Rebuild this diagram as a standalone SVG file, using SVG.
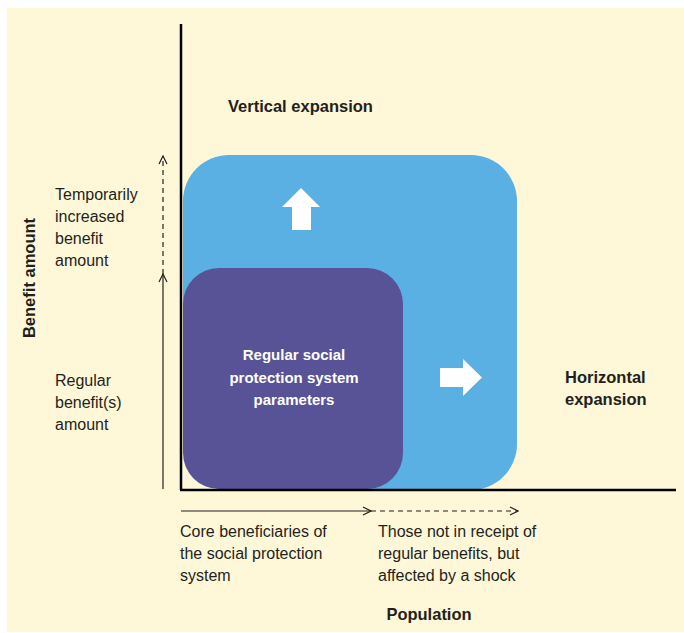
<svg xmlns="http://www.w3.org/2000/svg" width="684" height="633" viewBox="0 0 684 633">
<style>
.t{font-family:"Liberation Sans",Arial,sans-serif;font-size:16px;fill:#231f20}
.b{font-weight:bold;font-size:16.5px}
.w{fill:#ffffff;font-weight:bold;font-size:15px}
.ax{stroke:#000;stroke-width:2.5;fill:none}
.ar{stroke:#231f20;stroke-width:1.2;fill:none}
.da{stroke-dasharray:5,4}
</style>
<defs>
<marker id="oa" viewBox="0 0 10 10" refX="9" refY="5" markerWidth="10" markerHeight="10" markerUnits="userSpaceOnUse" orient="auto">
<path d="M1,1 L9,5 L1,9" fill="none" stroke="#231f20" stroke-width="1.2"/>
</marker>
</defs>
<rect x="7" y="8" width="677" height="624" fill="#fef7d8"/>
<g id="expanded">
<rect x="183" y="155" width="334" height="335" rx="46" ry="46" fill="#5ab0e3"/>
<path d="M301,188 L320,207 L311,207 L311,230 L292,230 L292,207 L282,207 Z" fill="#fff"/>
<path d="M440,368 L463,368 L463,359 L482,377.5 L463,396 L463,387 L440,387 Z" fill="#fff"/>
</g>
<g id="regular">
<rect x="183" y="268" width="220" height="221" rx="36" ry="36" fill="#585396"/>
<text class="t w" text-anchor="middle"><tspan x="294" y="360">Regular social</tspan><tspan x="294" y="383">protection system</tspan><tspan x="294" y="405">parameters</tspan></text>
</g>
<g id="axes">
<line class="ax" x1="181" y1="24" x2="181" y2="490"/>
<line class="ax" x1="180" y1="490" x2="676" y2="490"/>
</g>
<g id="connectors">
<line class="ar" x1="163" y1="489" x2="163" y2="274" marker-end="url(#oa)"/>
<line class="ar da" x1="163" y1="274" x2="163" y2="156" marker-end="url(#oa)"/>
<line class="ar" x1="181" y1="511" x2="371" y2="511" marker-end="url(#oa)"/>
<line class="ar da" x1="371" y1="511" x2="518" y2="511" marker-end="url(#oa)"/>
</g>
<g id="labels">
<text class="t b" x="228" y="112">Vertical expansion</text>
<text class="t"><tspan x="55" y="200">Temporarily</tspan><tspan x="55" y="222">increased</tspan><tspan x="55" y="244">benefit</tspan><tspan x="55" y="266">amount</tspan></text>
<text class="t"><tspan x="55" y="386">Regular</tspan><tspan x="55" y="408">benefit(s)</tspan><tspan x="55" y="430">amount</tspan></text>
<text class="t b" text-anchor="middle" transform="translate(35,278) rotate(-90)">Benefit amount</text>
<text class="t b"><tspan x="565" y="383">Horizontal</tspan><tspan x="565" y="405">expansion</tspan></text>
<text class="t"><tspan x="180" y="537">Core beneficiaries of</tspan><tspan x="180" y="559">the social protection</tspan><tspan x="180" y="581">system</tspan></text>
<text class="t"><tspan x="378" y="537">Those not in receipt of</tspan><tspan x="378" y="559">regular benefits, but</tspan><tspan x="378" y="581">affected by a shock</tspan></text>
<text class="t b" x="429" y="620" text-anchor="middle">Population</text>
</g>
</svg>
